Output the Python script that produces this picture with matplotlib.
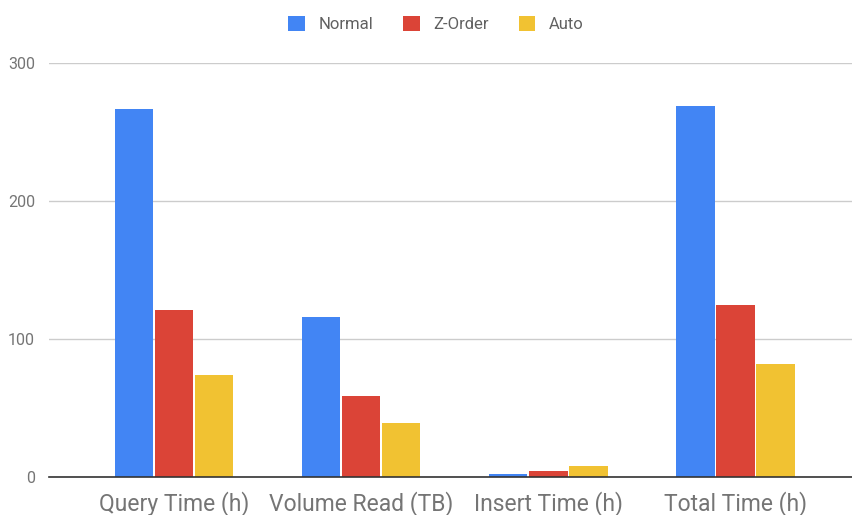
import matplotlib
matplotlib.use("Agg")
import matplotlib.pyplot as plt
import numpy as np

categories = ["Query Time (h)", "Volume Read (TB)", "Insert Time (h)", "Total Time (h)"]
series_names = ["Normal", "Z-Order", "Auto"]
normal = [267, 116, 2, 269]
zorder = [121, 59, 4, 125]
auto = [74, 39, 8, 82]
colors = ["#4285f4", "#db4437", "#f1c232"]
yticks = [0, 100, 200, 300]

plt.rcParams["font.family"] = ["Roboto", "DejaVu Sans"]

fig = plt.figure(figsize=(8.53, 5.15), dpi=100)
ax = fig.add_axes([49 / 853, 38 / 515, 1 - 49 / 853, 414 / 515])

x = np.arange(len(categories))
width = 0.214
for i, (vals, name) in enumerate(zip([normal, zorder, auto], series_names)):
    ax.bar(x + (i - 1) * width, vals, width * 0.97, color=colors[i], label=name, zorder=3)

ax.set_xlim(-0.668, 3.63)
ax.set_ylim(0, 300)
ax.set_yticks(yticks)
ax.set_yticklabels([str(t) for t in yticks])
ax.set_xticks(x)
ax.set_xticklabels(categories)
ax.tick_params(axis="x", length=0, pad=10, labelsize=16.5, labelcolor="#757575")
ax.tick_params(axis="y", length=0, pad=10, labelsize=11.5, labelcolor="#757575")
ax.grid(axis="y", color="#cccccc", linewidth=1, zorder=0)
for s in ["top", "right", "left"]:
    ax.spines[s].set_visible(False)
ax.spines["bottom"].set_color("#333333")
ax.spines["bottom"].set_linewidth(1.2)
ax.spines["bottom"].set_zorder(4)

# legend centred a bit right of the plot middle, near the top edge
leg = fig.legend(loc="center", bbox_to_anchor=(436 / 853, 1 - 24 / 515),
                 ncol=3, frameon=False, fontsize=12, handlelength=1.0, handleheight=1.0,
                 columnspacing=1.8, handletextpad=0.8)
for t in leg.get_texts():
    t.set_color("#616161")

fig.savefig("out.png", dpi=100)
